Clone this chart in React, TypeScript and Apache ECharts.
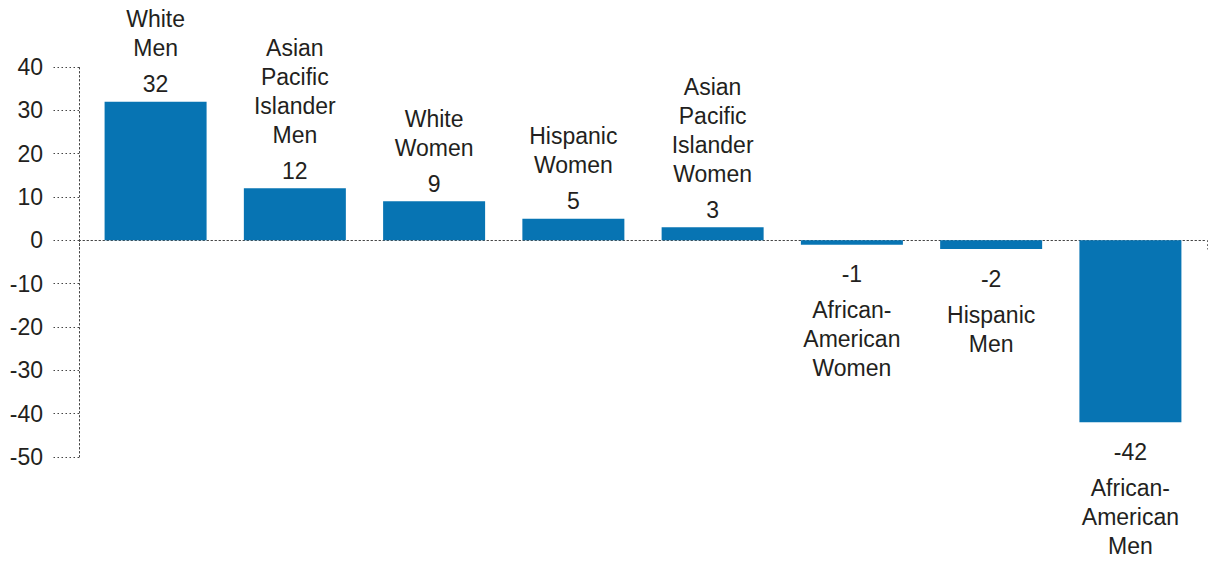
import React, { useEffect, useRef } from "react";
import * as echarts from "echarts";

const categories: string[] = [
  "White\nMen",
  "Asian\nPacific\nIslander\nMen",
  "White\nWomen",
  "Hispanic\nWomen",
  "Asian\nPacific\nIslander\nWomen",
  "African-\nAmerican\nWomen",
  "Hispanic\nMen",
  "African-\nAmerican\nMen",
];
const values: number[] = [32, 12, 9, 5, 3, -1, -2, -42];
const yTicks = { min: -50, max: 40, interval: 10 };

const BAR_COLOR = "#0774b3";
const TEXT = "#231f20";
const FONT = "'Liberation Sans', Arial, Helvetica, sans-serif";

export default function App() {
  const ref = useRef<HTMLDivElement>(null);
  useEffect(() => {
    if (!ref.current) return;
    const chart = echarts.init(ref.current, undefined, { renderer: "svg" });
    const rich = {
      n: { fontSize: 23, lineHeight: 29, color: TEXT, fontFamily: FONT, align: "center" },
      g: { fontSize: 6, lineHeight: 7 },
      v: { fontSize: 23, lineHeight: 29, color: TEXT, fontFamily: FONT, align: "center" },
    };
    const data = values.map((v, i) => ({
      value: [i, v],
      label: {
        show: true,
        position: v >= 0 ? "top" : "bottom",
        distance: v >= 0 ? 3 : 15,
        formatter:
          v >= 0
            ? `{n|${categories[i]}}\n{g| }\n{v|${v}}`
            : `{v|${v}}\n{g| }\n{n|${categories[i]}}`,
        rich,
        align: "center",
      },
    }));
    chart.setOption({
      animation: false,
      backgroundColor: "#ffffff",
      grid: { left: 79, right: 7, top: 67, bottom: 104, containLabel: false },
      xAxis: {
        type: "value",
        min: -0.55,
        max: 7.55,
        interval: 8.1,
        splitLine: { show: false },
        axisLabel: { show: false },
        axisLine: {
          show: true,
          onZero: true,
          lineStyle: { color: "#444", type: [1.5, 2.5], width: 1 },
        },
        axisTick: {
          show: true,
          length: 9,
          lineStyle: { color: "#444", type: [1.5, 2.5], width: 1 },
        },
      },
      yAxis: {
        type: "value",
        min: yTicks.min,
        max: yTicks.max,
        interval: yTicks.interval,
        splitLine: { show: false },
        axisLine: {
          show: true,
          onZero: false,
          lineStyle: { color: "#444", type: [1.5, 2.5], width: 1 },
        },
        axisTick: {
          show: true,
          length: 26,
          lineStyle: { color: "#444", type: [1.5, 2.5], width: 1 },
        },
        axisLabel: {
          margin: 36,
          fontSize: 23,
          color: TEXT,
          fontFamily: FONT,
        },
      },
      series: [
        {
          type: "bar",
          barWidth: 102,
          itemStyle: { color: BAR_COLOR },
          data,
        },
      ],
    });
    return () => chart.dispose();
  }, []);
  return (
    <div
      ref={ref}
      style={{ position: "fixed", left: 0, top: 0, width: 1214, height: 561 }}
    />
  );
}
